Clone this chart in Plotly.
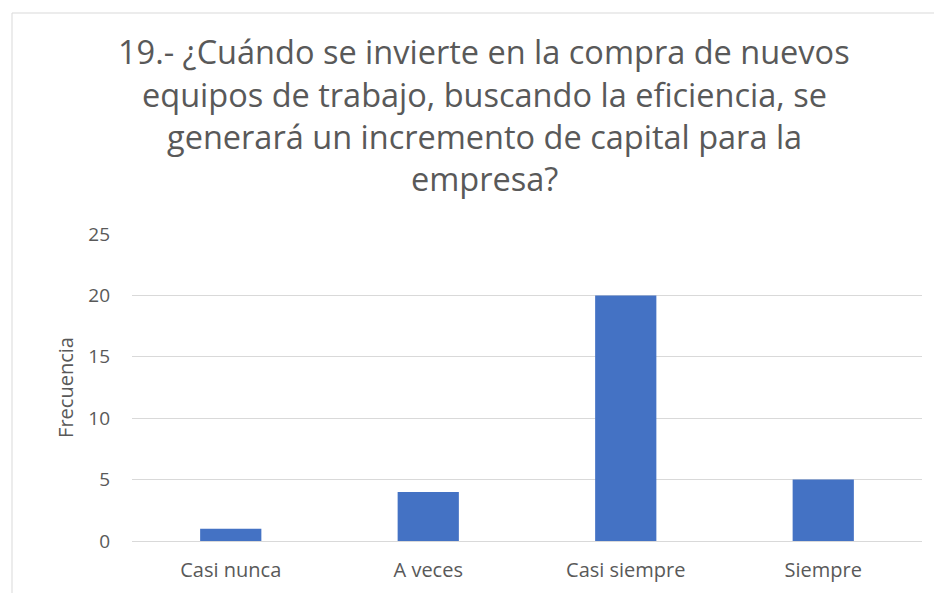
import plotly.graph_objects as go

categories = ["Casi nunca", "A veces", "Casi siempre", "Siempre"]
values = [1, 4, 20, 5]
y_ticks = [0, 5, 10, 15, 20, 25]
title_lines = ["19.- ¿Cuándo se invierte en la compra de nuevos",
               "equipos de trabajo, buscando la eficiencia, se",
               "generará un incremento de capital para la",
               "empresa?"]

# page is rendered with an 8px body margin, so figure coords = page - 8
W, H = 942, 593
L, R, T, B = 124, 28, 226, 60
pw, ph = W - L - R, H - T - B
FONT = "Open Sans, sans-serif"
GREY = "#595959"

fig = go.Figure(go.Bar(x=categories, y=values, marker_color="#4472C4",
                       marker_line_width=0))

fig.update_layout(
    width=W, height=H,
    margin=dict(l=L, r=R, t=T, b=B, autoexpand=False),
    paper_bgcolor="white", plot_bgcolor="white",
    font=dict(family=FONT, color=GREY),
    bargap=0.69,
    showlegend=False,
)
fig.update_xaxes(showline=True, linecolor="#d9d9d9", linewidth=1,
                 tickfont=dict(size=20, color=GREY), automargin=False,
                 ticklabelstandoff=11, showgrid=False)
fig.update_yaxes(range=[0, 25], tickvals=y_ticks, showgrid=True,
                 gridcolor="#d9d9d9", gridwidth=1, zeroline=False,
                 tickfont=dict(size=19, color=GREY), automargin=False,
                 ticklabelstandoff=21,
                 title=dict(text="Frecuencia", standoff=9,
                            font=dict(size=20, color=GREY)))

# title lines (centre y in figure pixels)
line_y = [43.5, 86, 128.5, 171]
for txt, yp in zip(title_lines, line_y):
    fig.add_annotation(text=txt, xref="paper", yref="paper",
                       x=(476 - L) / pw, y=((H - B) - yp) / ph,
                       xanchor="center", yanchor="middle", showarrow=False,
                       font=dict(size=32.5, color=GREY, family=FONT))

# chart-area border
fig.add_shape(type="rect", xref="paper", yref="paper",
              x0=(4 - L) / pw, x1=(W + 20 - L) / pw,
              y0=-(H + 20 - (H - B)) / ph, y1=((H - B) - 5) / ph,
              line=dict(color="#d9d9d9", width=1), fillcolor="rgba(0,0,0,0)",
              layer="below")

fig.write_html("out.html")
